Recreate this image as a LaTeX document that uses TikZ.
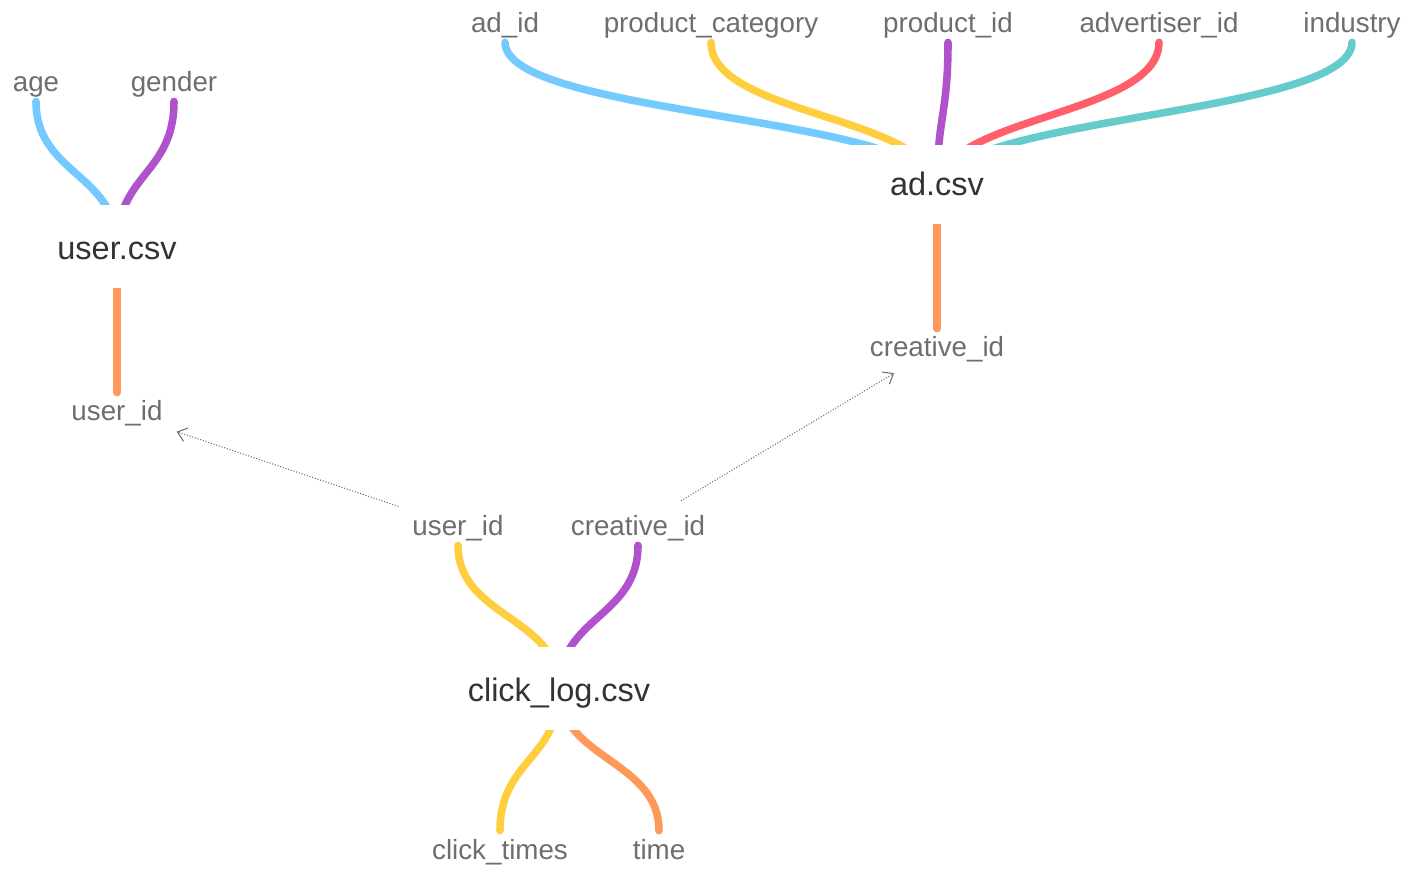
\documentclass[tikz,border=0pt]{standalone}
\usepackage{fontspec}
\setmainfont{Liberation Sans}
\usepackage{xcolor}
\usepackage{tikz}
\usetikzlibrary{arrows.meta, backgrounds}

\definecolor{cblue}{RGB}{116,201,255}
\definecolor{cyellow}{RGB}{255,206,62}
\definecolor{cpurple}{RGB}{176,82,204}
\definecolor{cred}{RGB}{255,94,107}
\definecolor{cteal}{RGB}{101,203,203}
\definecolor{corange}{RGB}{255,153,90}
\definecolor{leafgray}{RGB}{110,110,110}
\definecolor{rootgray}{RGB}{51,51,51}

\begin{document}
\begin{tikzpicture}[x=0.02cm, y=-0.02cm,
    leaf/.style={anchor=base, inner sep=0pt, text height=0.56cm, text depth=0.18cm,
        text=leafgray, font=\fontsize{15.8}{18}\selectfont},
    root/.style={anchor=base, inner sep=0pt, fill=white, text height=1.1cm, text depth=0.56cm,
        minimum width=#1, text=rootgray, font=\fontsize{18.5}{22}\selectfont},
    link/.style={draw=#1, line width=4.3pt, line cap=round},
    fk/.style={draw=leafgray, densely dotted, line width=0.6pt, -{Straight Barb[length=5pt, width=8pt]}}]
        \useasboundingbox (0,0) rectangle (1417,874);

        % ad.csv
        \node[root=3.6cm, text height=1.02cm] (ad) at (937,196) {ad.csv};
        \node[leaf] (adid) at (505,33) {ad\_id};
        \node[leaf] (prodcat) at (711,33) {product\_category};
        \node[leaf] (prodid) at (948,33) {product\_id};
        \node[leaf] (advid) at (1159,33) {advertiser\_id};
        \node[leaf] (industry) at (1352,33) {industry};
        \node[leaf] (cid) at (937,357) {creative\_id};

        % user.csv
        \node[root=3.4cm] (user) at (117,260) {user.csv};
        \node[leaf] (age) at (36,92) {age};
        \node[leaf] (gender) at (174,92) {gender};
        \node[leaf] (uid) at (117,421) {user\_id};

        % click_log.csv
        \node[root=4.4cm] (clicklog) at (559,702) {click\_log.csv};
        \node[leaf] (luid) at (458,536) {user\_id};
        \node[leaf] (lcid) at (638,536) {creative\_id};
        \node[leaf] (clicktimes) at (500,859) {click\_times};
        \node[leaf] (time) at (659,859) {time};

        % Columns
        \begin{scope}[on background layer]
            \draw[link=cblue] (adid.south) .. controls +(0,74) and +(0,-74) .. ([yshift=0.12cm]ad.base);
            \draw[link=cyellow] (prodcat.south) .. controls +(0,74) and +(0,-74) .. ([yshift=0.12cm]ad.base);
            \draw[link=cpurple] (prodid.south) .. controls +(0,74) and +(0,-74) .. ([yshift=0.12cm]ad.base);
            \draw[link=cred] (advid.south) .. controls +(0,74) and +(0,-74) .. ([yshift=0.12cm]ad.base);
            \draw[link=cteal] (industry.south) .. controls +(0,74) and +(0,-74) .. ([yshift=0.12cm]ad.base);
            \draw[link=corange] (ad.center) -- (cid.north);

            \draw[link=cblue] (age.south) .. controls +(0,73) and +(0,-73) .. (user.center);
            \draw[link=cpurple] (gender.south) .. controls +(0,73) and +(0,-73) .. (user.center);
            \draw[link=corange] (user.center) -- (uid.north);

            \draw[link=cyellow] (luid.south) .. controls +(0,72) and +(0,-72) .. (clicklog.center);
            \draw[link=cpurple] (lcid.south) .. controls +(0,72) and +(0,-72) .. (clicklog.center);
            \draw[link=cyellow] (clicklog.center) .. controls +(0,71) and +(0,-71) .. (clicktimes.north);
            \draw[link=corange] (clicklog.center) .. controls +(0,71) and +(0,-71) .. (time.north);
        \end{scope}

        % Keys
        \draw[fk, shorten <=1.26cm, shorten >=1.26cm] (luid.center) -- (uid.center);
        \draw[fk, shorten <=1cm, shorten >=1cm] (lcid.center) -- (cid.center);

    \end{tikzpicture}
\end{document}
